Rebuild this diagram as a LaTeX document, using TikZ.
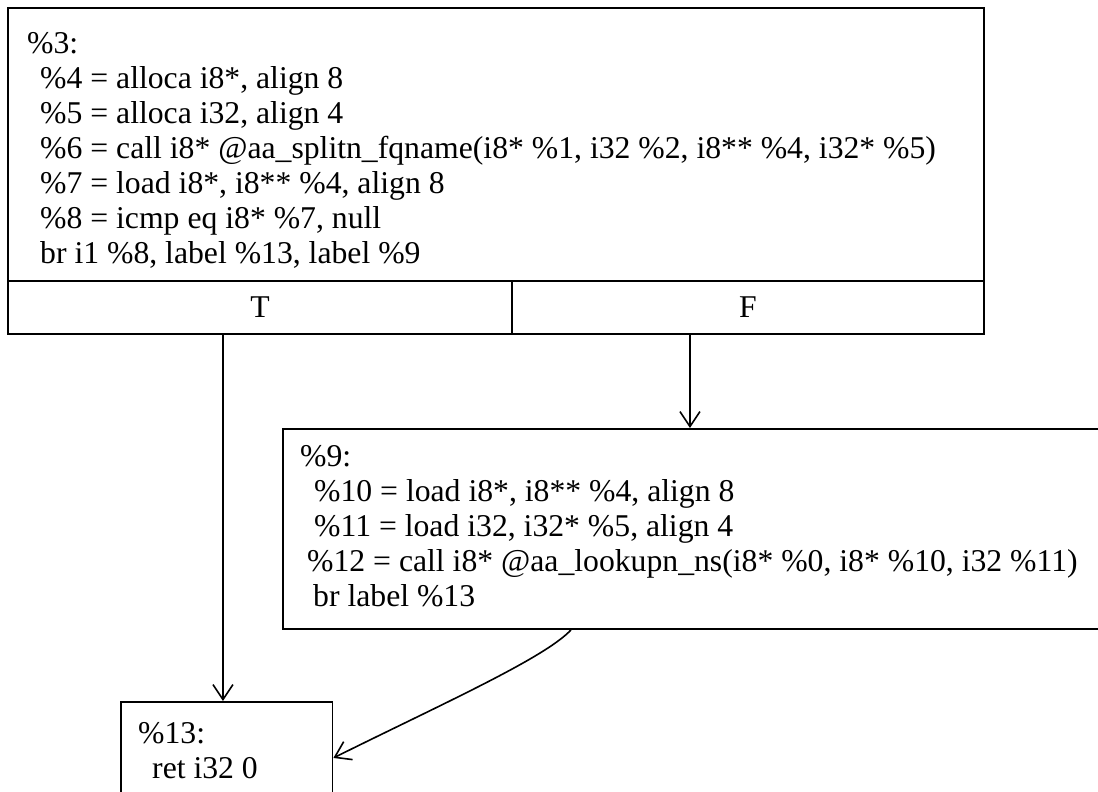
\documentclass[tikz,border=0pt]{standalone}
\usepackage{fontspec}
\setmainfont{Liberation Serif}
\usetikzlibrary{arrows.meta,calc}
\begin{document}
\begin{tikzpicture}[x=1pt,y=-1pt,
  box/.style={draw, line width=1.9pt, rectangle, inner sep=0pt, anchor=north west, font=\fontsize{31.7}{35}\selectfont},
  code/.style={anchor=north west, inner sep=0pt, align=left, font=\fontsize{31.7}{35}\selectfont},
  arr/.style={line width=1.6pt, -{Straight Barb[length=15pt,width=20pt,line width=1.6pt]}}]
\path[use as bounding box, fill=white] (0,0) rectangle (1098,792);
\clip (0,0) rectangle (1098,792);
% boxes
\node[box, minimum width=976pt, minimum height=273pt] (b3) at (7,7) {};
\node[box, minimum width=504pt, minimum height=53pt] (pT) at (7,280) {T};
\node[box, minimum width=472pt, minimum height=53pt] (pF) at (511,280) {F};
\node[box, minimum width=830pt, minimum height=200pt] (b9) at (282,428) {};
\node[box, minimum width=211.5pt, minimum height=120pt] (b13) at (120,701) {};
% texts
\node[code] (t3) at (27,32) {\%3:\\
\hspace*{13pt}\%4 = alloca i8*, align 8\\
\hspace*{13pt}\%5 = alloca i32, align 4\\
\hspace*{13pt}\%6 = call i8* @aa\_splitn\_fqname(i8* \%1, i32 \%2, i8** \%4, i32* \%5)\\
\hspace*{13pt}\%7 = load i8*, i8** \%4, align 8\\
\hspace*{13pt}\%8 = icmp eq i8* \%7, null\\
\hspace*{13pt}br i1 \%8, label \%13, label \%9};
\node[code] (t9) at (300,445) {\%9:\\
\hspace*{14pt}\%10 = load i8*, i8** \%4, align 8\\
\hspace*{14pt}\%11 = load i32, i32* \%5, align 4\\
\hspace*{7pt}\%12 = call i8* @aa\_lookupn\_ns(i8* \%0, i8* \%10, i32 \%11)\\
\hspace*{13pt}br label \%13};
\node[code] (t13) at (138,722) {\%13:\\
\hspace*{14pt}ret i32 0};
% connectors
\draw[arr] ([xshift=-37pt]pT.south) -- ([xshift=-3.75pt]b13.north);
\draw[arr] ([xshift=-58pt]pF.south) -- ([xshift=-8pt]b9.north);
\draw[arr] ([xshift=-127pt]b9.south) .. controls (545,658) and (440,705) .. ([yshift=4pt]b13.east);
\end{tikzpicture}
\end{document}
